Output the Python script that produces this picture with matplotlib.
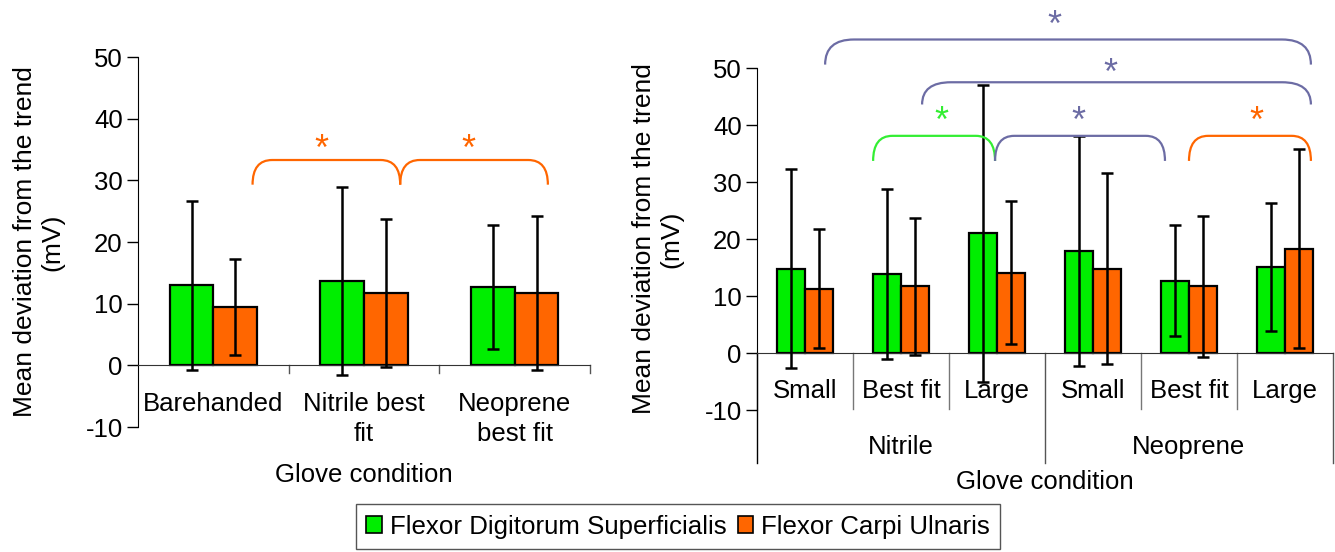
import numpy as np
import matplotlib.pyplot as plt
from matplotlib.path import Path
from matplotlib.patches import PathPatch, Patch

plt.rcParams['font.family'] = ['Liberation Sans', 'DejaVu Sans']
plt.rcParams['font.size'] = 18.5
plt.rcParams['axes.unicode_minus'] = False

green = '#00ee00'
orange = '#ff6600'
purple = '#6c6ca4'

# left panel: best-fit gloves vs barehanded
left_cats = ['Barehanded', 'Nitrile best\nfit', 'Neoprene\nbest fit']
left_fds = [13.0, 13.7, 12.7]
left_fds_err = [13.7, 15.3, 10.0]
left_fcu = [9.4, 11.7, 11.7]
left_fcu_err = [7.8, 12.0, 12.5]

# right panel: glove sizes per material
right_sizes = ['Small', 'Best fit', 'Large', 'Small', 'Best fit', 'Large']
right_groups = ['Nitrile', 'Neoprene']
right_fds = [14.8, 13.8, 21.0, 17.9, 12.7, 15.1]
right_fds_err = [17.4, 14.9, 26.0, 20.1, 9.8, 11.2]
right_fcu = [11.3, 11.7, 14.1, 14.8, 11.7, 18.3]
right_fcu_err = [10.5, 12.0, 12.6, 16.8, 12.4, 17.5]

series_names = ['Flexor Digitorum Superficialis', 'Flexor Carpi Ulnaris']

fig = plt.figure(figsize=(13.35, 5.52), dpi=100)
ax1 = fig.add_axes([0.1034, 0.2264, 0.3386, 0.6703])
ax2 = fig.add_axes([0.5670, 0.2572, 0.4315, 0.6196])

w = 0.29
ekw = dict(ecolor='black', elinewidth=1.8, capsize=4.5, capthick=1.8)


def draw_bars(ax, fds, fds_err, fcu, fcu_err):
    x = np.arange(len(fds))
    ax.bar(x - w / 2, fds, w, color=green, edgecolor='black', linewidth=1.6, zorder=2)
    ax.bar(x + w / 2, fcu, w, color=orange, edgecolor='black', linewidth=1.6, zorder=2)
    ax.errorbar(x - w / 2, fds, yerr=fds_err, fmt='none', zorder=3, **ekw)
    ax.errorbar(x + w / 2, fcu, yerr=fcu_err, fmt='none', zorder=3, **ekw)
    ax.set_xlim(-0.5, len(fds) - 0.5)
    ax.set_ylim(-10, 50)
    ax.set_yticks(np.arange(-10, 51, 10))
    ax.tick_params(axis='y', direction='out', length=8, width=1, pad=3)
    ax.set_xticks([])
    for s in ['top', 'right']:
        ax.spines[s].set_visible(False)
    ax.spines['bottom'].set_position(('data', 0))
    ax.spines['bottom'].set_color('#333333')
    ax.set_ylabel('Mean deviation from the trend\n(mV)', labelpad=15, fontsize=19)


def bracket(ax, x0, x1, ylo, yhi, r, color):
    verts = [(x0, ylo), (x0, yhi), (x0 + r, yhi), (x1 - r, yhi), (x1, yhi), (x1, ylo)]
    codes = [Path.MOVETO, Path.CURVE3, Path.CURVE3, Path.LINETO, Path.CURVE3, Path.CURVE3]
    ax.add_patch(PathPatch(Path(verts, codes), facecolor='none', edgecolor=color,
                           linewidth=1.6, clip_on=False, zorder=4))


def star(ax, x, y, color):
    ax.text(x, y, '*', color=color, fontsize=26, ha='center', va='center', clip_on=False)


# ---- left panel
draw_bars(ax1, left_fds, left_fds_err, left_fcu, left_fcu_err)
for xd in [0.5, 1.5, 2.5]:
    ax1.plot([xd, xd], [0, -1.3], color='#555555', lw=1, clip_on=False)
for i, lab in enumerate(left_cats):
    ax1.text(i, -4.3, lab, ha='center', va='top', linespacing=1.3)
ax1.text(1, -17.8, 'Glove condition', ha='center', va='center')

bracket(ax1, 0.26, 1.24, 29.3, 33.3, 0.13, orange)
bracket(ax1, 1.24, 2.22, 29.3, 33.3, 0.13, orange)
star(ax1, 0.72, 34.9, orange)
star(ax1, 1.69, 34.9, orange)

# ---- right panel
draw_bars(ax2, right_fds, right_fds_err, right_fcu, right_fcu_err)
for xd in [0.5, 1.5, 3.5, 4.5]:
    ax2.plot([xd, xd], [0, -9.8], color='#777777', lw=1, clip_on=False)
for xd in [-0.5, 2.5, 5.5]:
    ax2.plot([xd, xd], [0, -19.3], color='#555555' if xd > 0 else 'black', lw=1, clip_on=False)
for i, lab in enumerate(right_sizes):
    ax2.text(i, -6.6, lab, ha='center', va='center')
for g, lab in enumerate(right_groups):
    ax2.text(3 * g + 1, -16.5, lab, ha='center', va='center')
ax2.text(2.5, -22.6, 'Glove condition', ha='center', va='center')

bracket(ax2, 0.21, 5.27, 50.6, 55.0, 0.3, purple)
bracket(ax2, 1.22, 5.27, 43.6, 47.5, 0.3, purple)
bracket(ax2, 0.71, 1.98, 33.7, 38.1, 0.2, '#33ee33')
bracket(ax2, 1.98, 3.75, 33.7, 38.1, 0.2, purple)
bracket(ax2, 4.0, 5.27, 33.7, 38.1, 0.2, orange)
star(ax2, 2.6, 57.3, purple)
star(ax2, 3.18, 48.9, purple)
star(ax2, 1.42, 40.4, '#33ee33')
star(ax2, 2.85, 40.4, purple)
star(ax2, 4.7, 40.4, orange)

handles = [Patch(facecolor=green, edgecolor='black', linewidth=1.2),
           Patch(facecolor=orange, edgecolor='black', linewidth=1.2)]
leg = fig.legend(handles, series_names, loc='center', bbox_to_anchor=(0.508, 0.046), ncol=2,
                 fancybox=False, edgecolor='#555555', framealpha=1, handlelength=0.6,
                 handleheight=0.6, handletextpad=0.3, columnspacing=0.45, borderpad=0.4,
                 fontsize=18.6)
leg.get_frame().set_linewidth(1)

fig.savefig('out.png', dpi=100)
